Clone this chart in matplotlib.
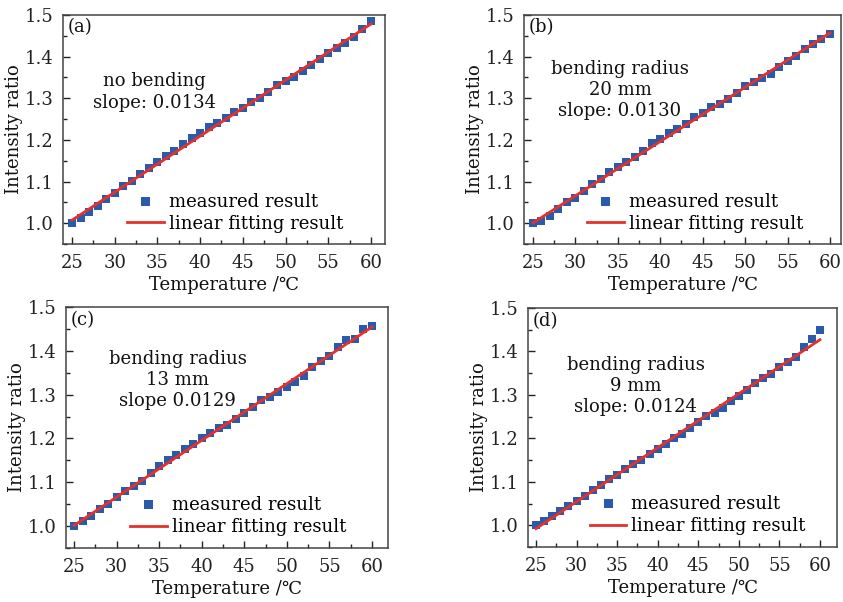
import numpy as np
import matplotlib
matplotlib.use("Agg")
import matplotlib.pyplot as plt
from matplotlib.ticker import MultipleLocator

plt.rcParams['font.family'] = ['DejaVu Serif', 'DejaVu Sans']
plt.rcParams['mathtext.fontset'] = 'dejavuserif'

temperature = list(range(25, 61))

ratio_a = [1.000, 1.013, 1.026, 1.041, 1.057, 1.073, 1.089, 1.102, 1.117, 1.133,
           1.146, 1.161, 1.174, 1.190, 1.205, 1.216, 1.230, 1.241, 1.252, 1.266,
           1.277, 1.290, 1.301, 1.314, 1.332, 1.342, 1.352, 1.365, 1.381, 1.394,
           1.408, 1.421, 1.432, 1.448, 1.466, 1.486]
ratio_b = [1.000, 1.006, 1.018, 1.034, 1.050, 1.060, 1.077, 1.093, 1.106, 1.122,
           1.136, 1.147, 1.160, 1.174, 1.192, 1.203, 1.216, 1.226, 1.238, 1.254,
           1.264, 1.278, 1.286, 1.298, 1.312, 1.330, 1.338, 1.349, 1.359, 1.375,
           1.389, 1.401, 1.418, 1.430, 1.442, 1.455]
ratio_c = [1.000, 1.012, 1.024, 1.038, 1.050, 1.067, 1.080, 1.092, 1.104, 1.122,
           1.136, 1.150, 1.162, 1.175, 1.187, 1.200, 1.212, 1.223, 1.230, 1.244,
           1.258, 1.272, 1.287, 1.294, 1.307, 1.318, 1.328, 1.343, 1.363, 1.377,
           1.388, 1.408, 1.424, 1.427, 1.449, 1.456]
ratio_d = [1.000, 1.010, 1.022, 1.033, 1.044, 1.056, 1.068, 1.081, 1.092, 1.106,
           1.115, 1.129, 1.140, 1.151, 1.165, 1.175, 1.187, 1.200, 1.209, 1.224,
           1.237, 1.252, 1.258, 1.271, 1.287, 1.297, 1.311, 1.327, 1.338, 1.348,
           1.364, 1.376, 1.388, 1.410, 1.428, 1.449]

panel_labels = ['(a)', '(b)', '(c)', '(d)']
annotations = ['no bending\nslope: 0.0134',
               'bending radius\n20 mm\nslope: 0.0130',
               'bending radius\n13 mm\nslope 0.0129',
               'bending radius\n9 mm\nslope: 0.0124']
ann_pos = [(34.7, 1.315), (35.25, 1.32), (37.2, 1.334), (37.3, 1.32)]
xlims = [(23.95, 61.64), (23.94, 61.3), (24.06, 61.88), (24.01, 62.1)]
series = [ratio_a, ratio_b, ratio_c, ratio_d]

W, H = 843, 602
boxes_px = [(63, 385, 15, 244), (524, 841, 15, 244), (66, 388, 307, 548), (528, 837, 308, 547)]

blue = '#2a5bab'
red = '#e8302a'
fs = 13

fig = plt.figure(figsize=(W / 100, H / 100), dpi=100)
for i, (l, r, t, b) in enumerate(boxes_px):
    ax = fig.add_axes([l / W, (H - b) / H, (r - l) / W, (b - t) / H])
    x = np.array(temperature, dtype=float)
    y = np.array(series[i])
    k, c0 = np.polyfit(x, y, 1)
    ax.plot(x, y, 's', color=blue, markersize=5.4, markeredgewidth=0, label='measured result', zorder=2)
    ax.plot(x, k * x + c0, '-', color=red, lw=2.0, label='linear fitting result', zorder=3)
    ax.set_xlim(*xlims[i])
    ax.set_ylim(0.95, 1.5)
    ax.xaxis.set_major_locator(MultipleLocator(5))
    ax.xaxis.set_minor_locator(MultipleLocator(2.5))
    ax.yaxis.set_major_locator(MultipleLocator(0.1))
    ax.yaxis.set_minor_locator(MultipleLocator(0.05))
    ax.yaxis.set_major_formatter(matplotlib.ticker.FormatStrFormatter('%.1f'))
    ax.tick_params(which='both', direction='in', top=False, right=False,
                   labelsize=fs, colors='#222222', width=1)
    ax.tick_params(which='major', length=5, pad=7)
    ax.tick_params(which='minor', length=3)
    for s in ax.spines.values():
        s.set_color('#444444')
        s.set_linewidth(1.1)
    ax.set_xlabel('Temperature /℃', fontsize=fs, labelpad=3, color='#111111')
    ax.set_ylabel('Intensity ratio', fontsize=fs, labelpad=1, color='#111111')
    ax.text(0.015, 0.985, panel_labels[i], transform=ax.transAxes, ha='left', va='top',
            fontsize=fs, color='#111111')
    ax.text(ann_pos[i][0], ann_pos[i][1], annotations[i], ha='center', va='center',
            fontsize=fs, color='#111111', linespacing=1.22)
    ax.legend(loc='lower left', bbox_to_anchor=(0.20, 0.05), frameon=False, fontsize=fs,
              handlelength=2.0, handletextpad=0.3, labelspacing=0.2, borderpad=0,
              borderaxespad=0, markerscale=1.2, numpoints=1)

fig.savefig('out.png', dpi=100)
